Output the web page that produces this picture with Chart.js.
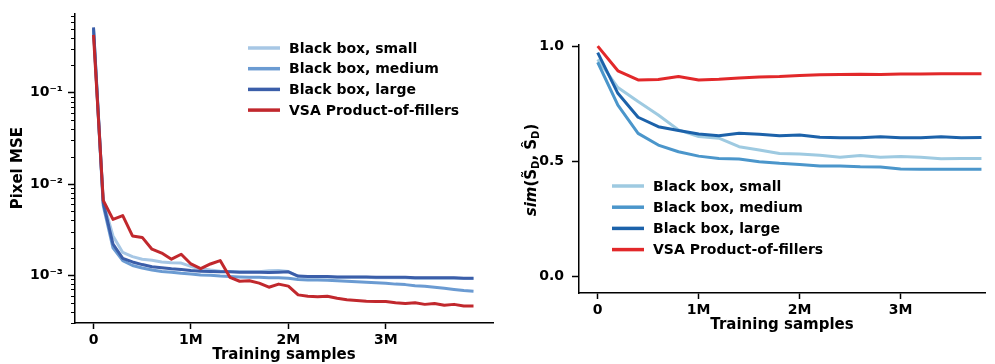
<!DOCTYPE html>
<html>
<head>
<meta charset="utf-8">
<script src="https://cdn.jsdelivr.net/npm/chart.js@4.4.1/dist/chart.umd.min.js"></script>
<style>
  html, body { margin: 0; padding: 0; background: #fff; overflow: hidden; }
  #wrap { position: relative; width: 995px; height: 364px; }
  .box { position: absolute; top: 0; height: 364px; }
</style>
</head>
<body>
<div id="wrap">
  <div class="box" style="left:0;width:497px"><canvas id="mse"></canvas></div>
  <div class="box" style="left:497px;width:498px"><canvas id="sim"></canvas></div>
</div>
<script>
// ---- data (training samples in millions) ----
const seriesNames = ['Black box, small', 'Black box, medium', 'Black box, large', 'VSA Product-of-fillers'];

const mseSteps = [0, 0.1, 0.2, 0.3, 0.4, 0.5, 0.6, 0.7, 0.8, 0.9, 1.0, 1.1, 1.2, 1.3, 1.4, 1.5, 1.6, 1.7, 1.8, 1.9,
                  2.0, 2.1, 2.2, 2.3, 2.4, 2.5, 2.6, 2.7, 2.8, 2.9, 3.0, 3.1, 3.2, 3.3, 3.4, 3.5, 3.6, 3.7, 3.8, 3.9];
const mseSmall = [0.48, 0.0064, 0.0027, 0.00178, 0.0016, 0.0015, 0.00146, 0.0014, 0.00137, 0.00136,
                  0.00125, 0.00118, 0.00114, 0.00111, 0.0011, 0.00109, 0.00109, 0.00109, 0.00112, 0.00113,
                  0.0011, 0.00097, 0.00096, 0.00096, 0.00096, 0.00095, 0.00095, 0.00095, 0.00095, 0.00094,
                  0.00094, 0.00094, 0.00094, 0.00093, 0.00093, 0.00093, 0.00093, 0.00093, 0.00092, 0.00092];
const mseMedium = [0.5, 0.0058, 0.002, 0.00145, 0.00128, 0.0012, 0.00114, 0.0011, 0.00108, 0.00105,
                   0.00103, 0.00101, 0.001, 0.00098, 0.00097, 0.00096, 0.00095, 0.00095, 0.00094, 0.00094,
                   0.00093, 0.0009, 0.00089, 0.00089, 0.00088, 0.00087, 0.00086, 0.00085, 0.00084, 0.00083,
                   0.00082, 0.0008, 0.00079, 0.00077, 0.00076, 0.00074, 0.00072, 0.0007, 0.00068, 0.00067];
const mseLarge = [0.52, 0.0062, 0.0022, 0.00153, 0.0014, 0.00131, 0.00124, 0.00121, 0.00118, 0.00116,
                  0.00113, 0.00111, 0.0011, 0.00109, 0.00109, 0.00108, 0.00108, 0.00108, 0.00107, 0.00108,
                  0.00109, 0.00098, 0.00097, 0.00097, 0.00097, 0.00096, 0.00096, 0.00096, 0.00096, 0.00095,
                  0.00095, 0.00095, 0.00095, 0.00094, 0.00094, 0.00094, 0.00094, 0.00094, 0.00093, 0.00093];
const mseVsa = [0.43, 0.0066, 0.0041, 0.0045, 0.0027, 0.0026, 0.00193, 0.00175, 0.0015, 0.0017,
                0.00133, 0.00118, 0.00133, 0.00145, 0.00095, 0.00086, 0.00087, 0.00082, 0.00074, 0.0008,
                0.00076, 0.00061, 0.00059, 0.00058, 0.00059, 0.00056, 0.00054, 0.00053, 0.00052, 0.000515,
                0.000515, 0.0005, 0.00049, 0.0005, 0.00048, 0.00049, 0.00047, 0.00048, 0.00046, 0.00046];

const simSteps = [0, 0.2, 0.4, 0.6, 0.8, 1.0, 1.2, 1.4, 1.6, 1.8, 2.0, 2.2, 2.4, 2.6, 2.8, 3.0, 3.2, 3.4, 3.6, 3.8];
const simSmall = [0.943, 0.82, 0.759, 0.701, 0.636, 0.607, 0.6, 0.563, 0.549, 0.533,
                  0.531, 0.526, 0.517, 0.525, 0.517, 0.52, 0.517, 0.511, 0.512, 0.512];
const simMedium = [0.93, 0.744, 0.621, 0.57, 0.541, 0.522, 0.512, 0.509, 0.498, 0.491,
                   0.486, 0.479, 0.479, 0.476, 0.475, 0.466, 0.465, 0.465, 0.465, 0.465];
const simLarge = [0.972, 0.795, 0.691, 0.65, 0.633, 0.618, 0.611, 0.621, 0.617, 0.611,
                  0.614, 0.604, 0.602, 0.602, 0.606, 0.602, 0.602, 0.606, 0.602, 0.603];
const simVsa = [1.0, 0.893, 0.853, 0.855, 0.868, 0.853, 0.856, 0.862, 0.866, 0.868,
                0.872, 0.876, 0.877, 0.878, 0.877, 0.879, 0.879, 0.88, 0.88, 0.88];

const stepTicks = [0, 1, 2, 3];
const stepTickLabels = ['0', '1M', '2M', '3M'];
const mseTicks = [1e-3, 1e-2, 1e-1];
const mseTickLabels = ['10\u207B\u00B3', '10\u207B\u00B2', '10\u207B\u00B9'];
const simTicks = [0, 0.5, 1.0];
const simTickLabels = ['0.0', '0.5', '1.0'];

const mseColors = ['#a7c7e5', '#6b9bd2', '#3b5ea9', '#c1282d'];
const simColors = ['#9ecae1', '#4b96cb', '#1c62aa', '#e2282a'];

Chart.defaults.font.family = '"DejaVu Sans", sans-serif';
Chart.defaults.font.size = 14;
Chart.defaults.font.weight = 'bold';
Chart.defaults.color = '#000';

const pairs = (xs, ys) => xs.map((x, i) => ({ x: x, y: ys[i] }));

function makeSets(xs, series, colors) {
  return series.map((ys, i) => ({
    label: seriesNames[i],
    data: pairs(xs, ys),
    borderColor: colors[i],
    borderWidth: 3,
    pointRadius: 0,
    tension: 0,
    borderJoinStyle: 'round',
    clip: false,
    order: series.length - i
  }));
}

// legend drawn inside the plot area
const insideLegend = {
  id: 'insideLegend',
  afterDraw(chart, args, opts) {
    const c = chart.ctx;
    c.save();
    c.font = 'bold 14px "DejaVu Sans", sans-serif';
    c.textBaseline = 'middle';
    chart.data.datasets.forEach((ds, i) => {
      const y = opts.y + i * opts.row;
      c.strokeStyle = ds.borderColor;
      c.lineWidth = 3.5;
      c.beginPath();
      c.moveTo(opts.x, y);
      c.lineTo(opts.x + 32, y);
      c.stroke();
      c.fillStyle = '#000';
      c.fillText(ds.label, opts.x + 41, y + 1);
    });
    c.restore();
  }
};

// short minor ticks for the log axis
const minorTicks = {
  id: 'minorTicks',
  afterDraw(chart) {
    const s = chart.scales.y;
    if (s.type !== 'logarithmic') return;
    const c = chart.ctx;
    c.save();
    c.strokeStyle = '#000';
    c.lineWidth = 1;
    for (let e = -4; e <= 0; e++) {
      for (let m = 2; m <= 9; m++) {
        const v = m * Math.pow(10, e);
        if (v < s.min || v > s.max) continue;
        const py = Math.round(s.getPixelForValue(v)) + 0.5;
        c.beginPath();
        c.moveTo(s.right - 4, py);
        c.lineTo(s.right, py);
        c.stroke();
      }
    }
    c.restore();
  }
};

// y label with italic "sim" and subscripts
const simLabel = {
  id: 'simLabel',
  afterDraw(chart, args, opts) {
    const c = chart.ctx;
    const parts = [
      ['italic bold 15px "DejaVu Sans", sans-serif', 'sim', 0],
      ['bold 15px "DejaVu Sans", sans-serif', '(S\u0303', 0],
      ['bold 10px "DejaVu Sans", sans-serif', 'D', 4],
      ['bold 15px "DejaVu Sans", sans-serif', ', S\u0302', 0],
      ['bold 10px "DejaVu Sans", sans-serif', 'D', 4],
      ['bold 15px "DejaVu Sans", sans-serif', ')', 0]
    ];
    c.save();
    let total = 0;
    parts.forEach(p => { c.font = p[0]; total += c.measureText(p[1]).width; });
    c.translate(opts.x, opts.y);
    c.rotate(-Math.PI / 2);
    c.fillStyle = '#000';
    c.textBaseline = 'middle';
    let px = -total / 2;
    parts.forEach(p => {
      c.font = p[0];
      c.fillText(p[1], px, p[2]);
      px += c.measureText(p[1]).width;
    });
    c.restore();
  }
};

const axisLine = { color: '#000', width: 1.5 };
const tickGrid = { drawOnChartArea: false, tickLength: 6, tickWidth: 1.5, tickColor: '#000' };

new Chart(document.getElementById('mse'), {
  type: 'line',
  data: { datasets: makeSets(mseSteps, [mseSmall, mseMedium, mseLarge, mseVsa], mseColors) },
  plugins: [insideLegend, minorTicks],
  options: {
    responsive: true,
    maintainAspectRatio: false,
    animation: false,
    layout: { padding: { left: 0, top: 8, right: 4, bottom: 0 } },
    plugins: {
      legend: { display: false },
      tooltip: { enabled: false },
      insideLegend: { x: 248, y: 48, row: 20.7 }
    },
    scales: {
      x: {
        type: 'linear', min: -0.19, max: 4.1,
        afterBuildTicks: s => { s.ticks = stepTicks.map(v => ({ value: v })); },
        afterFit: s => { s.height = 41; },
        ticks: { callback: (v, i) => stepTickLabels[i], padding: 3, maxRotation: 0, autoSkip: false },
        grid: tickGrid,
        border: axisLine,
        title: { display: true, text: 'Training samples', font: { size: 15, weight: 'bold' }, padding: 0 }
      },
      y: {
        type: 'logarithmic', min: 3.2e-4, max: 0.74,
        afterBuildTicks: s => { s.ticks = mseTicks.map(v => ({ value: v })); },
        afterFit: s => { s.width = 75; },
        ticks: { callback: (v, i) => mseTickLabels[i], padding: 5, autoSkip: false },
        grid: { drawOnChartArea: false, tickLength: 7, tickWidth: 1.5, tickColor: '#000' },
        border: axisLine,
        title: { display: true, text: 'Pixel MSE', font: { size: 15, weight: 'bold' }, padding: { top: 9, bottom: 0 } }
      }
    }
  }
});

new Chart(document.getElementById('sim'), {
  type: 'line',
  data: { datasets: makeSets(simSteps, [simSmall, simMedium, simLarge, simVsa], simColors) },
  plugins: [insideLegend, simLabel],
  options: {
    responsive: true,
    maintainAspectRatio: false,
    animation: false,
    layout: { padding: { left: 0, top: 45, right: 10, bottom: 30 } },
    plugins: {
      legend: { display: false },
      tooltip: { enabled: false },
      insideLegend: { x: 115, y: 186, row: 21.2 },
      simLabel: { x: 35, y: 170 }
    },
    scales: {
      x: {
        type: 'linear', min: -0.185, max: 3.835,
        afterBuildTicks: s => { s.ticks = stepTicks.map(v => ({ value: v })); },
        afterFit: s => { s.height = 41; },
        ticks: { callback: (v, i) => stepTickLabels[i], padding: 3, maxRotation: 0, autoSkip: false },
        grid: tickGrid,
        border: axisLine,
        title: { display: true, text: 'Training samples', font: { size: 15, weight: 'bold' }, padding: 0 }
      },
      y: {
        type: 'linear', min: -0.073, max: 1.005,
        afterBuildTicks: s => { s.ticks = simTicks.map(v => ({ value: v })); },
        afterFit: s => { s.width = 82; },
        ticks: { callback: (v, i) => simTickLabels[i], padding: 8, autoSkip: false },
        grid: { drawOnChartArea: false, tickLength: 7, tickWidth: 1.5, tickColor: '#000' },
        border: axisLine
      }
    }
  }
});
</script>
</body>
</html>
